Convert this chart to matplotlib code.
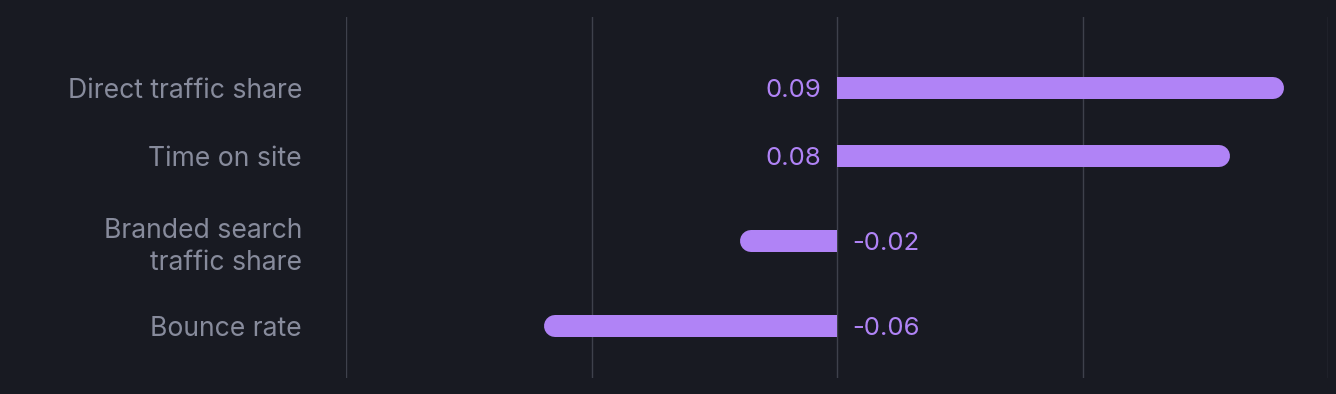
import matplotlib.pyplot as plt

# data
categories = ["Direct traffic share", "Time on site", "Branded search\ntraffic share", "Bounce rate"]
values = [0.0911, 0.0801, -0.0197, -0.0597]
value_labels = ["0.09", "0.08", "-0.02", "-0.06"]

BG = "#181a22"
BAR = "#b083f6"
GRID = "#3e414c"
LABEL = "#878b9c"

W, H = 1336, 394
fig = plt.figure(figsize=(W / 100, H / 100), dpi=100, facecolor=BG)
ax = fig.add_axes([346 / W, 1 - 378 / H, (1328 - 346) / W, (378 - 17) / H])
ax.set_facecolor(BG)

# rows grow with the number of label lines (y axis in pixels, top down)
row_base, row_extra = 68, 34
centers = []
y = 54
for c in categories:
    h = row_base + row_extra * (c.count("\n"))
    centers.append(y + h / 2)
    y += h

ax.set_xlim(-0.1, 0.1)
ax.set_ylim(378, 17)

for gx in [-0.1, -0.05, 0, 0.05, 0.1]:
    ax.axvline(gx, color=GRID, lw=1, zorder=1)

bar_h = 22
px_per_unit = (1328 - 346) / 0.2
r = (bar_h / 2) / px_per_unit
lw_pt = bar_h * 72 / 100

for yc, v, lab in zip(centers, values, value_labels):
    s = 1 if v > 0 else -1
    # flat end at zero, rounded end at the value
    ax.barh(yc, v - s * r, left=0, height=bar_h, color=BAR, zorder=2)
    ax.plot([s * r, v - s * r], [yc, yc], color=BAR, lw=lw_pt,
            solid_capstyle="round", zorder=2)
    if v > 0:
        ax.annotate(lab, (0, yc), xytext=(-16 * 0.72, 0), textcoords="offset points",
                    ha="right", va="center_baseline", color=BAR, fontsize=18.5, family="Inter")
    else:
        ax.annotate(lab, (0, yc), xytext=(15 * 0.72, 0), textcoords="offset points",
                    ha="left", va="center_baseline", color=BAR, fontsize=18.5, family="Inter")

ax.set_yticks(centers)
ax.set_yticklabels(categories, color=LABEL, fontsize=19.1, family="Inter",
                   ha="right", linespacing=1.3)
ax.tick_params(axis="y", length=0, pad=44 * 0.72)
ax.set_xticks([])
for sp in ax.spines.values():
    sp.set_visible(False)

fig.savefig("out.png", dpi=100, facecolor=BG)
